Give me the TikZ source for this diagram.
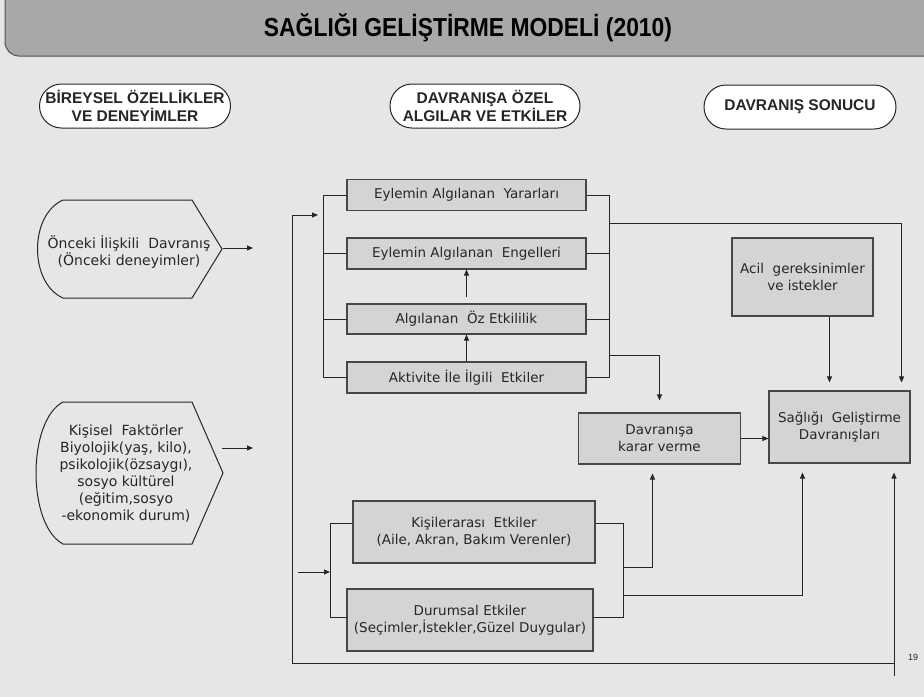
\documentclass[tikz,border=0pt]{standalone}
\usepackage{fontspec}
\setmainfont{DejaVu Sans}
\newfontfamily\hdfont[FakeStretch=0.88]{Liberation Sans}
\newfontfamily\lbfont{Liberation Sans}
\usepackage{tikz}
\usetikzlibrary{positioning,arrows.meta}
\usepackage{xcolor}
\definecolor{bgcol}{HTML}{E6E6E6}
\definecolor{barcol}{HTML}{A8A8A8}
\definecolor{boxcol}{HTML}{D4D4D4}
\definecolor{inkcol}{HTML}{262626}

\begin{document}
\begin{tikzpicture}[x=1pt,y=-1pt,
    box/.style={rectangle,draw=inkcol!85,fill=boxcol,line width=1.1pt,align=center,inner sep=0pt,text=inkcol,font=\fontsize{13.5}{17}\selectfont},
    hdr/.style={rectangle,rounded corners=22pt,draw=inkcol,fill=white,line width=1pt,minimum height=44pt,align=center,inner sep=0pt,text=inkcol,font=\lbfont\bfseries\fontsize{15.5}{18}\selectfont},
    txt/.style={align=center,inner sep=0pt,text=inkcol,font=\fontsize{14}{17}\selectfont},
    ln/.style={draw=inkcol,line width=1pt},
    arr/.style={-{Triangle[length=6pt,width=5pt]}}]
    \fill[bgcol] (0,0) rectangle (924,697);
    \useasboundingbox (0,0) rectangle (924,697);
    \draw[fill=barcol,draw=inkcol!80,line width=1pt,rounded corners=14pt] (5,-20) rectangle (950,56);
    \node [font=\hdfont\bfseries\fontsize{26}{28}\selectfont,text=black] (t) at (468,28) {SAĞLIĞI GELİŞTİRME MODELİ (2010)};
    \node [hdr,minimum width=191pt] (h1) at (135,106) {BİREYSEL ÖZELLİKLER\\VE DENEYİMLER};
    \node [hdr,minimum width=190pt] (h2) at (485,106) {DAVRANIŞA ÖZEL\\ALGILAR VE ETKİLER};
    \node [hdr,minimum width=192pt] (h3) at (800,107) {DAVRANIŞ SONUCU};

    \draw[ln,fill=bgcol] (63,200) -- (192,200) -- (222,249) -- (192,298) -- (63,298) .. controls (29,283) and (29,215) .. (63,200) -- cycle;
    \draw[ln,fill=bgcol] (63,402) -- (192,402) -- (223,473) -- (192,544) -- (63,544) .. controls (27,525) and (27,421) .. (63,402) -- cycle;
    \node [txt] (1) at (129,252) {Önceki İlişkili\ \ Davranış\\(Önceki deneyimler)};
    \node [txt] (11) at (126,474) {Kişisel\ \ Faktörler\\Biyolojik(yaş, kilo),\\psikolojik(özsaygı),\\sosyo kültürel\\(eğitim,sosyo\\-ekonomik durum)};

    \node [box,minimum width=239pt,minimum height=31pt] (2) at (466.5,195) {Eylemin Algılanan\ \ Yararları};
    \node [box,minimum width=239pt,minimum height=31pt] (3) at (466.5,253.5) {Eylemin Algılanan\ \ Engelleri};
    \node [box,minimum width=239pt,minimum height=30pt] (4) at (466.5,319) {Algılanan\ \ Öz Etkililik};
    \node [box,minimum width=239pt,minimum height=31pt] (5) at (466.5,377.5) {Aktivite İle İlgili\ \ Etkiler};
    \node [box,minimum width=141pt,minimum height=78pt] (6) at (802.5,277) {Acil\ \ gereksinimler\\ve istekler};
    \node [box,minimum width=162pt,minimum height=51pt] (7) at (659.5,438.5) {Davranışa\\karar verme};
    \node [box,minimum width=141pt,minimum height=72pt] (8) at (839.5,427) {Sağlığı\ \ Geliştirme\\Davranışları};
    \node [box,minimum width=242pt,minimum height=62pt] (9) at (474,532) {Kişilerarası\ \ Etkiler\\(Aile, Akran, Bakım Verenler)};
    \node [box,minimum width=246pt,minimum height=62pt] (10) at (470,620) {Durumsal Etkiler\\(Seçimler,İstekler,Güzel Duygular)};
    \node [font=\lbfont\fontsize{9}{9}\selectfont,text=inkcol] (pg) at (913,657) {19};

    \coordinate (a1) at (223,248);
    \coordinate (a2) at (253,248);
    \coordinate (a3) at (222,448);
    \coordinate (a4) at (253,448);
    \draw[ln,arr] (a1) -- (a2);
    \draw[ln,arr] (a3) -- (a4);

    \draw[ln] (2.west) -- ++(-23,0) coordinate (b1) |- (5.west);
    \draw[ln] (3.west) -- (3.west -| b1);
    \draw[ln] (4.west) -- (4.west -| b1);
    \draw[ln] (2.east) -- ++(23,0) coordinate (b2) |- (5.east);
    \draw[ln] (3.east) -- (3.east -| b2);
    \draw[ln] (4.east) -- (4.east -| b2);
    \draw[ln,arr] (5.north) -- (4.south);
    \draw[ln,arr] ([yshift=6pt]4.north) -- (3.south);

    \coordinate (c1) at (609,223);
    \coordinate (c2) at (609,355);
    \draw[ln,arr,shorten >=8pt] (c1) -| ([xshift=-9pt]8.north east);
    \draw[ln,arr,shorten >=12pt] (c2) -| (7.north);
    \draw[ln,arr,shorten >=8pt] ([xshift=27pt]6.south) -- ([xshift=27pt]6.south |- 8.north);
    \draw[ln,arr] (7.east) -- (7.east -| 8.west);

    \coordinate (d1) at (330,523);
    \coordinate (d2) at (330,617);
    \coordinate (d3) at (298,572);
    \draw[ln] (9.west |- d1) -- (d1) -- (d2) -- (10.west |- d2);
    \draw[ln,arr] (d3) -- (d1 |- d3);
    \coordinate (e1) at (623,523);
    \coordinate (e2) at (623,617);
    \coordinate (e3) at (623,567);
    \coordinate (e4) at (623,595);
    \draw[ln] (9.east |- e1) -- (e1) -- (e2) -- (10.east |- e2);
    \draw[ln,arr,shorten >=9pt] (e3) -| ([xshift=-7pt]7.south);
    \draw[ln,arr,shorten >=9pt] (e4) -| ([xshift=-37pt]8.south);

    \coordinate (f1) at (894,676);
    \coordinate (f2) at (894,663);
    \coordinate (f3) at (292,663);
    \coordinate (f4) at (292,215);
    \coordinate (f5) at (318,215);
    \draw[ln,arr,shorten >=9pt] (f1) -- (f1 |- 8.south);
    \draw[ln,arr] (f2) -- (f3) -- (f4) -- (f5);
\end{tikzpicture}
\end{document}
